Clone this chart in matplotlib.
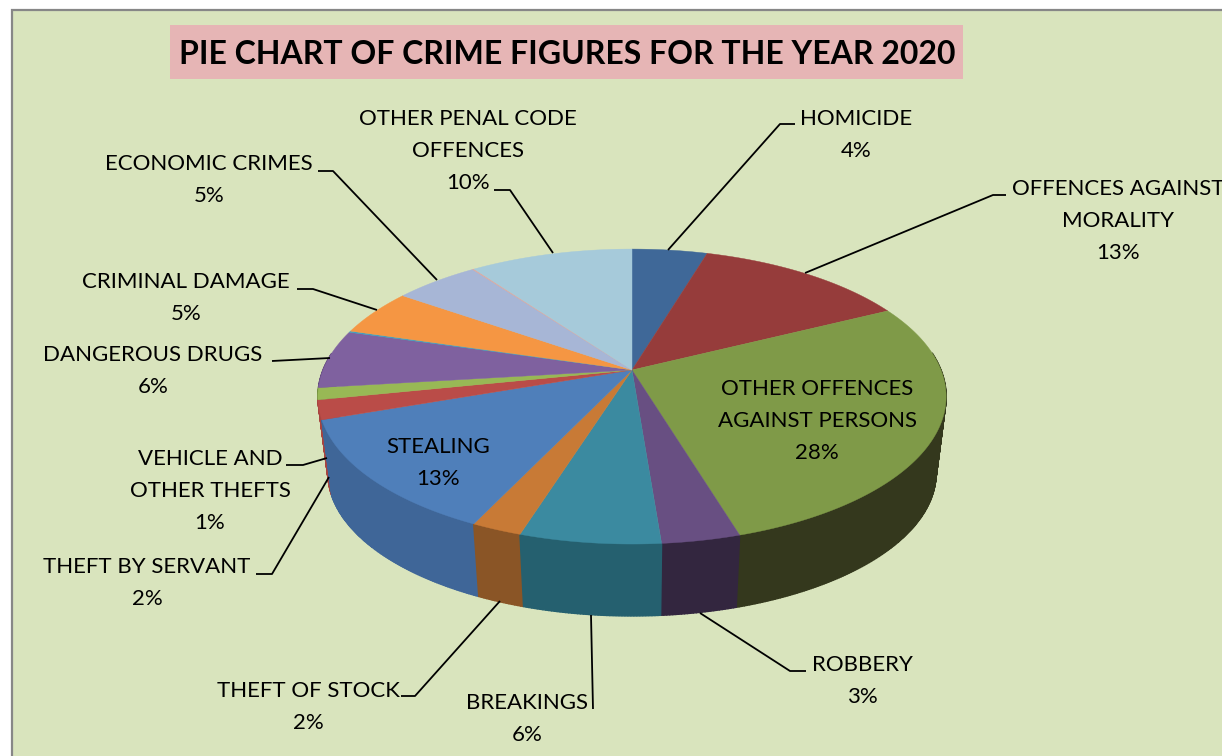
import numpy as np
import matplotlib
matplotlib.use("Agg")
import matplotlib.pyplot as plt
from matplotlib.patches import Polygon, Rectangle

title = "PIE CHART OF CRIME FIGURES FOR THE YEAR 2020"
categories = ["HOMICIDE", "OFFENCES AGAINST\nMORALITY", "OTHER OFFENCES\nAGAINST PERSONS", "ROBBERY",
              "BREAKINGS", "THEFT OF STOCK", "STEALING", "THEFT BY SERVANT",
              "VEHICLE AND\nOTHER THEFTS", "DANGEROUS DRUGS", "", "CRIMINAL DAMAGE", "ECONOMIC CRIMES", "",
              "OTHER PENAL CODE\nOFFENCES"]
values = [4.6, 13.0, 27.7, 3.4, 6.1, 2.2, 12.6, 2.1, 1.3, 6.4, 0.15, 5.1, 5.2, 0.1, 9.95]
pct_labels = ["4%", "13%", "28%", "3%", "6%", "2%", "13%", "2%", "1%", "6%", "", "5%", "5%", "", "10%"]
top_colors = ["#3F6898", "#963C3B", "#7F9A48", "#684F82", "#3B8AA0", "#C87A36", "#4F7FBA", "#BA4C48",
              "#98B855", "#7F619F", "#3FA0C0", "#F59643", "#A7B6D6", "#E0A8A0", "#A6CADA"]
side_colors = ["#2F4E72", "#702D2C", "#34381D", "#33263F", "#25606F", "#8A5526", "#3F6698", "#A8443F",
               "#6E8A3C", "#5F4878", "#2F7890", "#B87030", "#7D8AA0", "#A88078", "#7C98A4"]

CX, CY = 632, 370
K, H, C = 309.0, 142.7, 0.18
SCALE, DROP = 0.968, 77.5
BG = "#D9E4BD"

label_pos = {0: (856, 135), 1: (1118, 221), 2: (817, 421), 3: (862, 681), 4: (527, 719), 5: (308, 707),
             6: (438, 463), 7: (147, 583), 8: (210, 491), 9: (153, 371), 11: (186, 298), 12: (209, 180),
             14: (468, 151)}
leaders = [[(668, 250), (780, 124), (795, 124)], [(805, 273), (993, 195), (1006, 195)],
           [(553, 253), (510, 190), (494, 190)], [(437, 280), (333, 171), (318, 171)],
           [(377, 310), (313, 289), (297, 289)], [(330, 358), (272, 361)],
           [(327, 458), (303, 465), (286, 465)], [(329, 477), (272, 574), (256, 574)],
           [(500, 601), (415, 696), (401, 696)], [(591, 615), (593, 709)],
           [(700, 613), (790, 671), (806, 671)]]


def rim(theta):
    u, v = np.sin(theta), np.cos(theta)
    d = 1 + C * v
    return CX + K * u / d, CY - H * v / d


def under(x, y):
    return CX + (x - CX) * SCALE, CY + (y - CY) * SCALE + DROP


plt.rcParams["font.family"] = ["Lato", "DejaVu Sans"]
fig = plt.figure(figsize=(12.22, 7.56), dpi=100, facecolor="white")
ax = fig.add_axes([0, 0, 1, 1])
ax.set_xlim(0, 1222)
ax.set_ylim(756, 0)
ax.axis("off")
ax.add_patch(Rectangle((11.5, 10), 1240, 780, fc=BG, ec="#878787", lw=1.6, zorder=0))
ax.add_patch(Rectangle((170, 25), 793, 54, fc="#E6B5B5", ec="none", zorder=1))
ax.text(567, 54, title, ha="center", va="center", fontsize=23.0, fontweight="bold", color="black", zorder=2)

edges = np.cumsum([0] + values) / sum(values) * 2 * np.pi

# side wall, painted from the back towards the viewer
strips = []
for i in range(len(values)):
    ts = np.linspace(edges[i], edges[i + 1], max(3, int(values[i] * 8)))
    for a, b in zip(ts[:-1], ts[1:]):
        mid = (a + b) / 2
        if np.cos(mid) < 0.12:
            strips.append((-np.cos(mid), a, b, i))
for _, a, b, i in sorted(strips):
    xa, ya = rim(a)
    xb, yb = rim(b)
    quad = [(xa, ya), (xb, yb), under(xb, yb), under(xa, ya)]
    ax.add_patch(Polygon(quad, closed=True, fc=side_colors[i], ec=side_colors[i], lw=1.0, zorder=3))

# top face
for i in range(len(values)):
    ts = np.linspace(edges[i], edges[i + 1], max(4, int(values[i] * 12)))
    xs, ys = rim(ts)
    pts = [(CX, CY)] + list(zip(xs, ys))
    ax.add_patch(Polygon(pts, closed=True, fc=top_colors[i], ec=top_colors[i], lw=0.3, zorder=4))

for path in leaders:
    px, py = zip(*path)
    ax.plot(px, py, color="black", lw=1.3, zorder=5, solid_capstyle="butt")

for i, (x, y) in label_pos.items():
    ax.text(x, y, categories[i] + "\n" + pct_labels[i], ha="center", va="center", fontsize=16,
            linespacing=1.72, color="black", zorder=6, clip_on=True)

fig.savefig("out.png", dpi=100, facecolor="white")
